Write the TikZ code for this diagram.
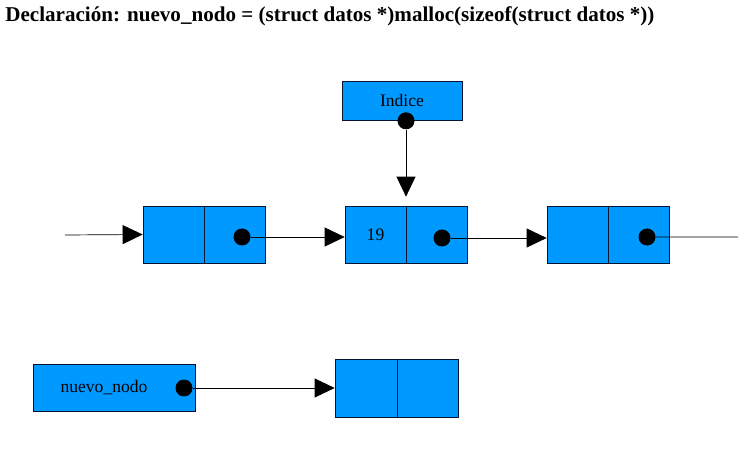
\documentclass[tikz,border=0pt]{standalone}
\usepackage{fontspec}
\setmainfont{Liberation Serif}
\usetikzlibrary{calc,arrows.meta}
\definecolor{cellblue}{RGB}{0,153,255}
\definecolor{celledge}{RGB}{10,20,50}

\begin{document}
\begin{tikzpicture}[x=0.02cm,y=-0.02cm,
  cell/.style={draw=celledge,fill=cellblue,minimum width=1.22cm,minimum height=1.14cm,inner sep=0pt,font=\fontsize{10}{12}\selectfont},
  ptr/.style={circle,fill=black,inner sep=0pt,minimum size=.34cm},
  link/.style={-{Triangle[width=.38cm,length=.4cm]}}]
\useasboundingbox (0,0) rectangle (750,455);

% Title
\node[anchor=base west,inner sep=0pt,font=\bfseries\fontsize{12}{14}\selectfont] (title) at (5,22)
{Declaración: nuevo\_nodo = (struct datos *)malloc(sizeof(struct datos *))};

% Indice
\node (indice) at (402,100.5) [cell,minimum width=2.4cm,minimum height=.78cm] {Indice};
\node[ptr] (pindice) at ($(indice.south)+(4,0.5)$) {};

% First node
\node (n1a) at (173.5,234.5) [cell] {};
\node (n1b) at (234.5,234.5) [cell] {};
\node[ptr] (p1) at ($(n1b)+(7.5,2.5)$) {};

% Second node
\node (n2a) at (375.5,234.5) [cell] {\raisebox{-2pt}{19}};
\node (n2b) at (437,234.5) [cell] {};
\node[ptr] (p2) at ($(n2b)+(5,3.5)$) {};

% Third node
\node (n3a) at (577.5,234.5) [cell] {};
\node (n3b) at (638.5,234.5) [cell] {};
\node[ptr] (p3) at ($(n3b)+(8.5,2.5)$) {};

% New node
\node (nuevo) at (114,387.5) [cell,minimum width=3.24cm,minimum height=.94cm] {nuevo\_nodo\hspace*{.4cm}};
\node[ptr] (pnuevo) at (184,388) {};
\node (m1a) at (366,388) [cell,minimum width=1.24cm,minimum height=1.16cm] {};
\node (m1b) at (427.5,388) [cell,minimum width=1.22cm,minimum height=1.16cm] {};

% Links
\coordinate (start) at (65,235);
\coordinate (end) at (738,237);
\draw[link] (start) -- (n1a.west);
\draw[link] (p1) -- (p1 -| n2a.west);
\draw[link] (p2) -- (p2 -| n3a.west);
\draw (p3) -- (end);
\draw[link,shorten >=.18cm] (pindice) -- (pindice |- n2a.north);
\draw[link] (pnuevo) -- (pnuevo -| m1a.west);

\end{tikzpicture}
\end{document}
